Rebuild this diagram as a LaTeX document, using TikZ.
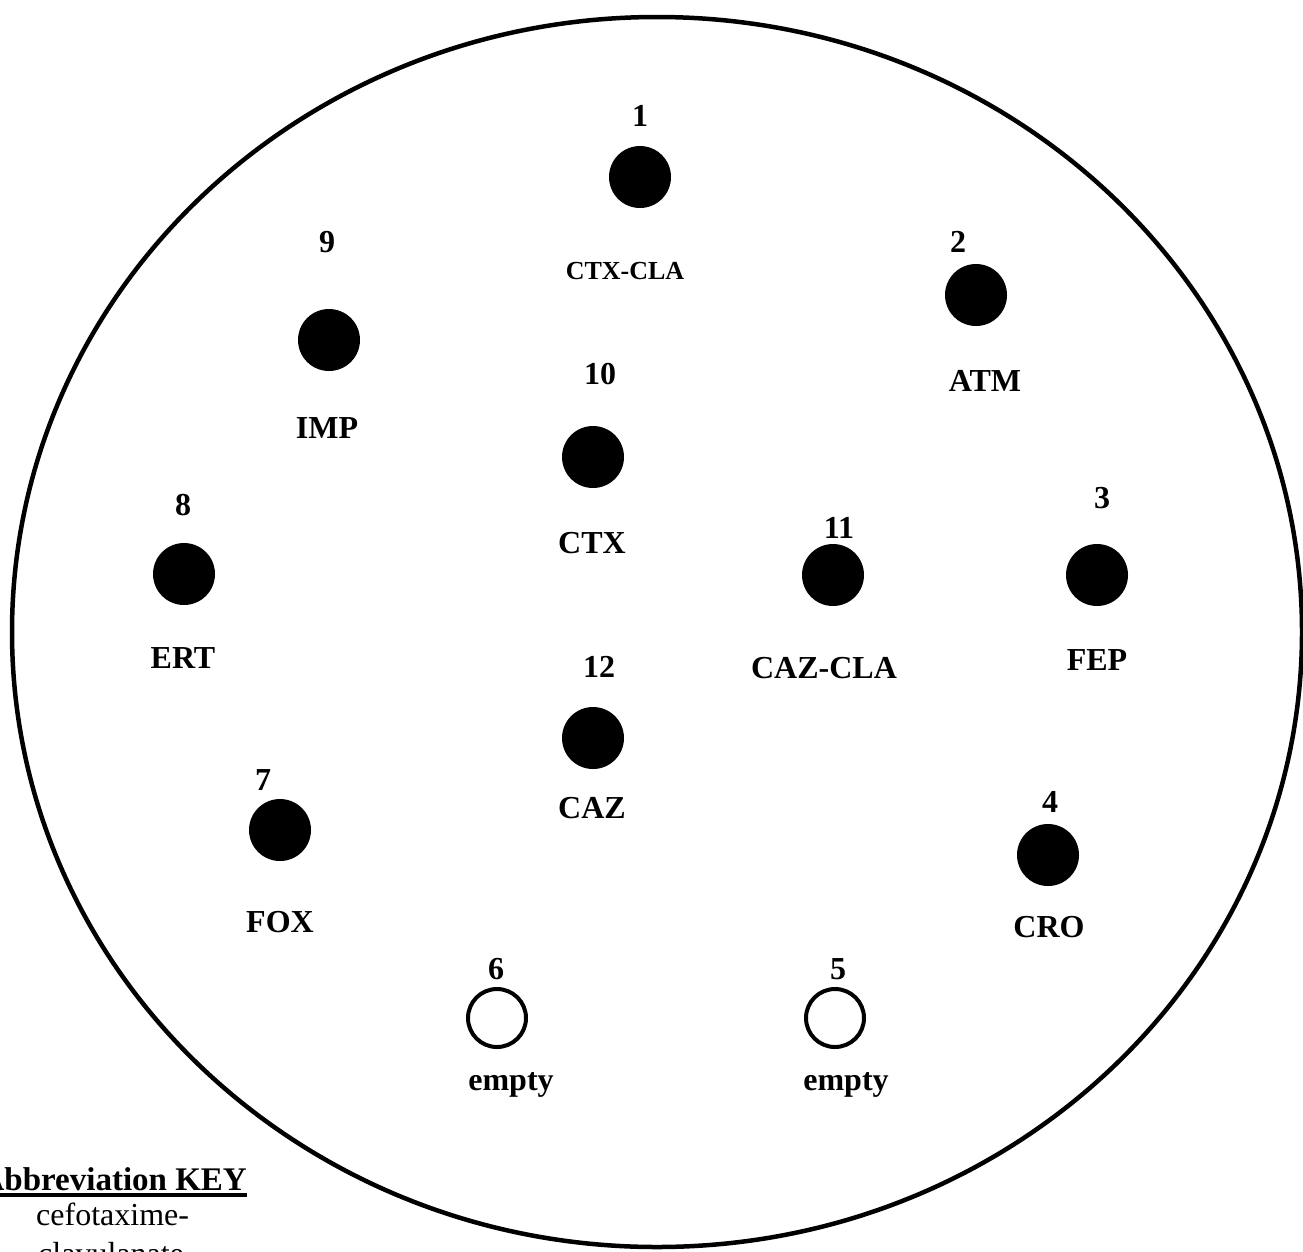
\documentclass[tikz,border=0pt]{standalone}
\usepackage{fontspec}
\setmainfont{Liberation Serif}
\begin{document}
\begin{tikzpicture}[x=1pt,y=-1pt,
  disc/.style={circle, fill=black, minimum size=62pt, inner sep=0pt},
  well/.style={circle, draw=black, line width=4pt, minimum size=58pt, inner sep=0pt},
  tag/.style={font=\fontsize{32}{38}\selectfont\bfseries, inner sep=0pt, anchor=base},
  smalltag/.style={font=\fontsize{26}{31}\selectfont\bfseries, inner sep=0pt, anchor=base},
  keytext/.style={font=\fontsize{32}{38}\selectfont, inner sep=0pt, anchor=base west}]

\clip (0,0) rectangle (1303,1251);

% agar plate outline
\draw[line width=4.5pt] (657,632) ellipse [x radius=645pt, y radius=615pt];

% antibiotic discs
\node[disc] (d1)  at (640,177) {};
\node[disc] (d2)  at (976,295) {};
\node[disc] (d3)  at (1097,575) {};
\node[disc] (d4)  at (1048,855) {};
\node[well] (d5)  at (835,1018) {};
\node[well] (d6)  at (497,1018) {};
\node[disc] (d7)  at (280,830) {};
\node[disc] (d8)  at (184,574) {};
\node[disc] (d9)  at (329,340) {};
\node[disc] (d10) at (593,457) {};
\node[disc] (d11) at (833,575) {};
\node[disc] (d12) at (593,738) {};

% position numbers
\node[tag] (n1)  at (640,126) {1};
\node[tag] (n2)  at (958,252) {2};
\node[tag] (n3)  at (1102,508) {3};
\node[tag] (n4)  at (1050,812) {4};
\node[tag] (n5)  at (838,979) {5};
\node[tag] (n6)  at (496,979) {6};
\node[tag] (n7)  at (263,790) {7};
\node[tag] (n8)  at (183,515) {8};
\node[tag] (n9)  at (327,252) {9};
\node[tag] (n10) at (600,384) {10};
\node[tag] (n11) at (839,538) {11};
\node[tag] (n12) at (599,677) {12};

% antibiotic names
\node[smalltag] (l1) at (625,279) {CTX-CLA};
\node[tag] (l2)  at (985,391) {ATM};
\node[tag] (l3)  at (1097,670) {FEP};
\node[tag] (l4)  at (1049,937) {CRO};
\node[tag] (l5)  at (846,1090) {empty};
\node[tag] (l6)  at (511,1090) {empty};
\node[tag] (l7)  at (280,932) {FOX};
\node[tag] (l8)  at (183,668) {ERT};
\node[tag] (l9)  at (327,438) {IMP};
\node[tag] (l10) at (592,553) {CTX};
\node[tag] (l11) at (824,678) {CAZ-CLA};
\node[tag] (l12) at (592,818) {CAZ};

% abbreviation key
\node[font=\fontsize{33}{39}\selectfont\bfseries, inner sep=0pt, anchor=base east] (key) at (247,1190) {Abbreviation KEY};
\draw[line width=3.5pt] ([yshift=-5pt]key.base west) -- ([yshift=-5pt]key.base east);
\node[keytext] (k1a) at (36,1225) {cefotaxime-};
\node[keytext] (k1b) at (38,1264) {clavulanate};
\end{tikzpicture}
\end{document}
